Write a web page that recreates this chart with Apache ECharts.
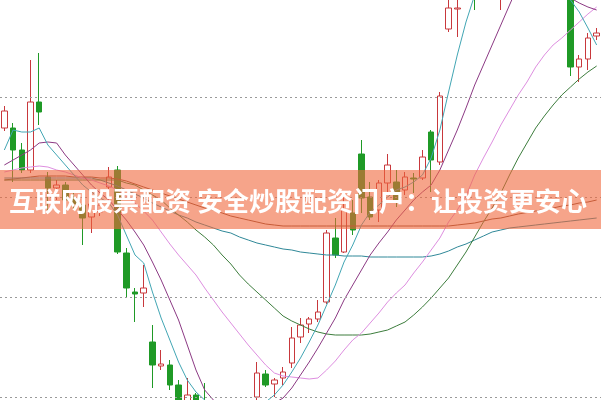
<!DOCTYPE html>
<html><head><meta charset="utf-8">
<script src="https://cdn.jsdelivr.net/npm/echarts@6/dist/echarts.min.js"></script>
<style>html,body{margin:0;padding:0;background:#fff}#c{width:601px;height:400px}</style>
</head><body><div id="c"></div>
<script>
// candles: [open, close, low, high]
const ohlc = [
[36.9,38.6,36.6,39.1],[36.9,34.7,31.5,37.4],[34.7,32.7,32.4,35.4],[32.7,39.5,32.4,43.7],[39.5,38.5,37.2,44.4],
[32.0,30.9,28.4,32.5],[30.9,31.2,29.7,31.7],[31.2,29.7,28.4,31.5],[29.9,29.3,28.7,30.5],[29.2,27.9,25.2,29.7],
[28.0,29.3,26.4,29.9],[28.5,29.2,28.1,29.9],[31.0,32.0,30.7,33.0],[32.7,24.5,24.3,33.1],[24.4,20.9,19.9,24.9],
[20.5,20.3,17.5,20.9],[20.4,20.9,19.0,23.2],[15.5,13.2,10.9,17.2],[13.1,13.3,12.7,14.7],[13.2,11.2,10.7,13.7],
[11.2,9.2,8.7,11.7],[9.5,10.2,9.1,11.9],[10.2,9.2,8.5,10.4],[9.2,7.7,7.2,11.4],[7.8,6.5,6.0,8.5],
[6.6,7.2,6.0,8.0],[7.0,5.8,5.2,7.6],[5.9,6.6,5.5,7.4],[6.8,8.4,6.2,8.9],[10.0,12.4,9.7,13.5],
[12.3,11.2,11.0,12.7],[11.3,11.7,10.0,11.9],[11.9,12.5,11.2,13.0],[13.4,15.9,12.9,17.0],[16.0,17.2,15.4,17.9],
[17.3,17.8,16.4,18.0],[17.8,18.5,17.5,19.7],[19.5,26.4,19.3,26.7],[25.9,24.2,23.9,27.9],[24.5,28.7,24.4,30.0],
[28.4,26.7,26.2,29.7],[34.3,29.9,28.4,35.7],[30.0,28.0,27.7,31.5],[28.7,31.4,27.5,31.7],[31.4,33.2,30.4,34.3],
[31.5,29.7,29.0,32.7],[30.7,32.0,30.2,32.5],[31.9,31.8,30.4,32.4],[31.9,34.0,31.7,34.7],[36.5,33.7,30.5,36.7],
[33.5,40.1,33.2,40.5],[46.8,48.9,46.5,50.7],[48.8,48.9,46.0,51.7],[51.0,53.0,50.5,54.0],[55.0,52.0,48.7,56.0],
[52.0,55.0,51.0,56.5],[55.0,57.0,54.0,58.0],[52.0,55.0,48.7,56.0],[55.0,58.0,54.0,59.0],[58.0,60.0,57.0,61.0],
[60.0,59.0,58.0,62.0],[59.0,61.0,58.0,62.0],[61.0,60.0,59.0,63.0],[60.0,62.0,59.0,63.0],[62.0,61.0,60.0,63.0],
[56.0,43.0,42.1,57.0],[43.0,43.8,41.5,44.2],[43.8,45.9,42.7,46.4],[46.1,46.4,45.7,46.9]
];
const days = ohlc.map((d, i) => String(i + 1));
const gridLevels = [10, 20, 30, 40];

const ma5 = [34.7,36.7,36.5,36.5,36.9,35.2,34.2,33.2,32.2,31.2,30.5,29.9,29.4,28.2,26.2,24.2,23.4,20.5,17.9,15.7,13.5,11.7,10.5,9.7,8.7,7.9,7.7,7.9,8.5,9.2,9.5,10.2,11.2,12.5,13.9,15.5,17.2,19.2,21.2,23.5,25.2,27.2,28.5,29.2,30.0,30.7,31.0,31.5,32.2,33.9,36.7,40.5,44.2,47.5,50.2,52.7,54.7,55.7,56.7,56.7,56.2,55.2,53.7,52.2,50.7,49.7,48.5,46.9,45.2];
const ma10 = [33.2,33.7,34.2,34.7,35.4,35.5,35.4,34.2,33.2,32.2,31.2,30.4,29.7,28.7,27.7,26.5,25.2,23.5,21.7,19.7,17.7,15.2,12.7,10.7,9.7,8.7,7.9,7.7,7.9,8.5,8.9,9.4,9.9,10.9,12.2,13.5,14.9,16.4,17.9,19.7,21.2,22.7,24.2,25.4,26.5,27.7,28.7,29.7,30.5,31.2,32.7,34.7,36.7,38.9,41.2,43.2,45.2,47.2,49.2,51.2,52.5,53.2,53.5,53.2,51.7,49.9,49.4,49.0,48.7];
const ma20 = [32.5,32.7,32.9,33.0,33.1,33.0,32.7,32.5,32.2,31.9,31.7,31.4,31.1,30.7,30.1,29.4,28.6,27.7,26.5,25.3,24.2,23.2,22.2,20.9,19.7,18.5,17.4,16.3,15.2,14.2,13.2,12.4,12.1,12.0,11.9,11.8,11.9,12.7,13.6,14.7,15.7,16.4,17.4,18.4,19.5,20.4,21.2,22.4,23.5,24.7,25.9,27.5,28.7,30.1,32.2,33.9,35.5,37.2,38.7,40.2,41.5,43.0,44.2,45.2,45.9,46.7,47.5,48.3,49.0];
const ma30 = [31.7,31.7,31.7,31.7,31.7,31.7,31.7,31.7,31.7,31.7,31.7,31.7,31.7,31.7,31.4,31.2,30.7,30.2,29.7,28.9,28.2,27.5,26.7,26.0,25.2,24.2,23.3,22.2,21.3,20.5,19.7,18.9,18.1,17.6,17.2,16.8,16.5,16.3,16.2,16.2,16.2,16.2,16.3,16.5,16.7,17.1,17.5,18.2,19.0,19.9,20.9,21.9,23.2,24.5,26.0,27.5,28.9,30.4,32.2,33.9,35.4,36.9,38.1,39.2,40.2,41.0,41.8,42.5,43.1];
const ma60 = [31.9,31.9,31.9,31.9,31.9,31.9,31.9,31.9,31.9,31.9,31.9,31.7,31.4,31.1,30.7,30.3,29.9,29.4,29.0,28.6,28.2,27.9,27.5,27.2,26.9,26.6,26.4,26.0,25.7,25.4,25.2,25.0,24.8,24.7,24.5,24.4,24.3,24.2,24.2,24.1,24.1,24.1,24.0,24.0,24.0,24.0,24.0,24.0,24.0,24.1,24.3,24.6,25.0,25.3,25.7,26.1,26.5,26.7,26.9,27.0,27.1,27.2,27.3,27.4,27.5,27.6,27.7,27.8,27.9];
const ma120 = [31.7,31.8,31.9,32.0,32.1,32.1,32.1,32.1,32.0,32.0,32.0,31.9,31.9,31.8,31.6,31.3,31.0,30.7,30.4,30.1,29.8,29.5,29.2,28.9,28.7,28.4,28.1,27.9,27.7,27.5,27.3,27.2,27.1,27.1,27.1,27.1,27.1,27.1,27.1,27.1,27.1,27.1,27.1,27.1,27.1,27.1,27.1,27.1,27.1,27.1,27.1,27.1,27.2,27.3,27.4,27.6,27.8,27.9,28.1,28.3,28.45,28.6,28.75,28.9,29.1,29.2,29.4,29.5,29.7];

const bannerText = '互联网股票配资 安全炒股配资门户：让投资更安心';

const chart = echarts.init(document.getElementById('c'), null, {renderer: 'canvas'});
function line(name, data, color) {
  return {name, type: 'line', data, symbol: 'none', smooth: false, silent: true,
    lineStyle: {width: 1, color}, itemStyle: {color}, z: 3};
}
chart.setOption({
  animation: false,
  backgroundColor: '#ffffff',
  grid: {left: -1.875, width: 603.75, top: 0, height: 400, containLabel: false},
  xAxis: {type: 'category', data: days, boundaryGap: true,
    axisLine: {show: false}, axisTick: {show: false}, axisLabel: {show: false}, splitLine: {show: false}},
  yAxis: {type: 'value', min: 9.7, max: 49.7, scale: true,
    axisLine: {show: false}, axisTick: {show: false}, axisLabel: {show: false}, splitLine: {show: false}},
  series: [
    {type: 'candlestick', data: ohlc, barWidth: 6, z: 2,
      itemStyle: {color: '#ffffff', color0: '#1f9a26', borderColor: '#c8383c', borderColor0: '#1f9a26', borderWidth: 1},
      markLine: {silent: true, symbol: 'none', label: {show: false}, animation: false,
        lineStyle: {color: '#9a9a9a', width: 1, type: [2, 3]},
        data: gridLevels.map(v => ({yAxis: v}))}},
    line('MA120', ma120, '#8a4b33'),
    line('MA60', ma60, '#2f8898'),
    line('MA30', ma30, '#3d7d3d'),
    line('MA20', ma20, '#de8ee0'),
    line('MA10', ma10, '#8c3a84'),
    line('MA5', ma5, '#42a6b4')
  ],
  graphic: [
    {type: 'rect', shape: {x: 0, y: 170, width: 601, height: 59}, style: {fill: 'rgba(240,103,60,0.6)'}, z: 100, silent: true},
    {type: 'text', x: 298, y: 201, z: 101, silent: true,
      style: {text: bannerText, fill: '#ffffff', font: 'bold 26px "Noto Sans CJK SC"',
        align: 'center', verticalAlign: 'middle', textAlign: 'center', textVerticalAlign: 'middle'}}
  ]
});
</script></body></html>
